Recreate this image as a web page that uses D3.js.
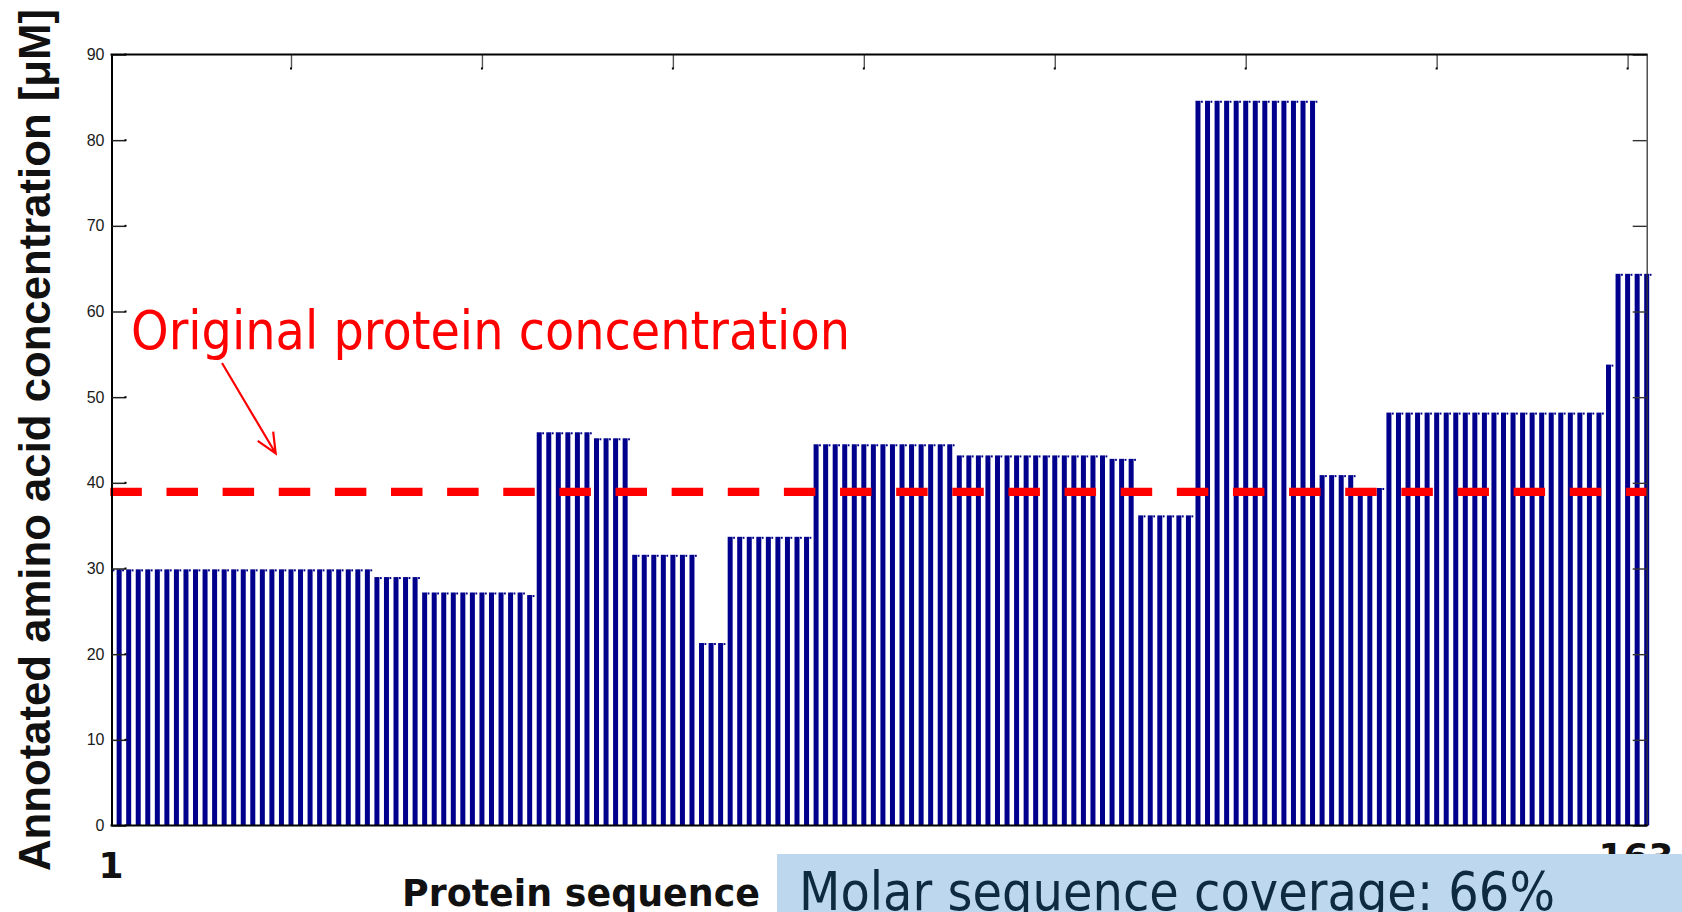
<!DOCTYPE html>
<html>
<head>
<meta charset="utf-8">
<script src="https://cdn.jsdelivr.net/npm/d3@7"></script>
<style>
  html, body { margin: 0; padding: 0; background: #ffffff; }
  svg { display: block; }
</style>
</head>
<body>
<script>
// ---------------- DATA ----------------
// Residue positions along the protein sequence
const positions = d3.range(1, 163);
// Annotated amino acid concentration per residue [µM]
const concentrations = [
  29.9,29.9,29.9,29.9,29.9,29.9,29.9,29.9,29.9,29.9,
  29.9,29.9,29.9,29.9,29.9,29.9,29.9,29.9,29.9,29.9,
  29.9,29.9,29.9,29.9,29.9,29.9,29.9,29.9,
  29.0,29.0,29.0,29.0,29.0,
  27.2,27.2,27.2,27.2,27.2,27.2,27.2,27.2,27.2,27.2,27.2,
  26.9,
  45.9,45.9,45.9,45.9,45.9,45.9,
  45.2,45.2,45.2,45.2,
  31.6,31.6,31.6,31.6,31.6,31.6,31.6,
  21.3,21.3,21.3,
  33.7,33.7,33.7,33.7,33.7,33.7,33.7,33.7,33.7,
  44.5,44.5,44.5,44.5,44.5,44.5,44.5,44.5,44.5,44.5,44.5,44.5,44.5,44.5,44.5,
  43.2,43.2,43.2,43.2,43.2,43.2,43.2,43.2,43.2,43.2,43.2,43.2,43.2,43.2,43.2,43.2,
  42.8,42.8,42.8,
  36.2,36.2,36.2,36.2,36.2,36.2,
  84.6,84.6,84.6,84.6,84.6,84.6,84.6,84.6,84.6,84.6,84.6,84.6,84.6,
  40.9,40.9,40.9,40.9,
  39.4,39.4,39.4,
  48.2,48.2,48.2,48.2,48.2,48.2,48.2,48.2,48.2,48.2,48.2,48.2,
  48.2,48.2,48.2,48.2,48.2,48.2,48.2,48.2,48.2,48.2,48.2,
  53.8,
  64.4,64.4,64.4,64.4
];
const originalConcentration = [38.95];
const yTickValues = [0, 10, 20, 30, 40, 50, 60, 70, 80, 90];
const xTickValues = [20, 40, 60, 80, 100, 120, 140, 160];
const xEndLabels = ["1", "163"];
const yTitle = "Annotated amino acid concentration [\u03bcM]";
const xTitle = "Protein sequence";
const annotationText = "Original protein concentration";
const coverageText = "Molar sequence coverage: 66%";

// ---------------- LAYOUT ----------------
const W = 1682, H = 912;
const plot = { left: 111.5, right: 1646.7, top: 54.5, bottom: 825.5 };

const x = d3.scaleLinear().domain([1.2, 162]).range([plot.left, plot.right]);
const y = d3.scaleLinear().domain([0, 90]).range([plot.bottom, plot.top]);

const barW = 5.0;
const navy = "#00008c";
const red = "#ff0000";

const svg = d3.select("body").append("svg")
  .attr("width", W).attr("height", H)
  .attr("viewBox", `0 0 ${W} ${H}`);

svg.append("rect").attr("width", W).attr("height", H).attr("fill", "#fff");

const defs = svg.append("defs");
defs.append("clipPath").attr("id", "plotclip")
  .append("rect")
  .attr("x", plot.left).attr("y", 0)
  .attr("width", W - plot.left).attr("height", plot.bottom + 1);

// bottom ticks (mostly hidden behind bars)
const bottomAxis = d3.axisBottom(x).tickValues(xTickValues).tickSizeInner(-14).tickSizeOuter(0).tickFormat("");
const gBottom = svg.append("g").attr("transform", `translate(0,${plot.bottom})`).call(bottomAxis);
gBottom.select(".domain").remove();
gBottom.selectAll(".tick line").attr("stroke", "#333").attr("stroke-width", 1.4);

// ---------------- BARS ----------------
const data = positions.map((p, i) => ({ p, v: concentrations[i] }));
const gBars = svg.append("g").attr("clip-path", "url(#plotclip)");
gBars.selectAll("rect.bar").data(data).join("rect")
  .attr("class", "bar")
  .attr("x", d => x(d.p) - barW / 2)
  .attr("width", barW)
  .attr("y", d => y(d.v))
  .attr("height", d => y(0) - y(d.v))
  .attr("fill", navy);
// small dotted cap to the right of each bar top
gBars.selectAll("rect.cap").data(data).join("rect")
  .attr("class", "cap")
  .attr("x", d => x(d.p) + barW / 2 + 0.5)
  .attr("width", 1.8)
  .attr("y", d => y(d.v))
  .attr("height", 2)
  .attr("fill", navy);

// ---------------- REFERENCE LINE ----------------
svg.selectAll("line.ref").data(originalConcentration).join("line")
  .attr("class", "ref")
  .attr("x1", 110.35).attr("x2", plot.right)
  .attr("y1", d => y(d)).attr("y2", d => y(d))
  .attr("stroke", red).attr("stroke-width", 8.4)
  .attr("stroke-dasharray", "31.5,24.63");

// ---------------- AXES ----------------
const leftAxis = d3.axisLeft(y).tickValues(yTickValues).tickSizeInner(-14).tickSizeOuter(0).tickPadding(7);
const gLeft = svg.append("g").attr("transform", `translate(${plot.left},0)`).call(leftAxis);
gLeft.select(".domain").attr("stroke", "#000").attr("stroke-width", 2);
gLeft.selectAll(".tick line").attr("stroke", "#222").attr("stroke-width", 1.5);
gLeft.selectAll(".tick text")
  .attr("font-family", "'Liberation Sans', Arial, sans-serif")
  .attr("font-size", 16).attr("fill", "#1a1a1a");

const rightAxis = d3.axisRight(y).tickValues(yTickValues).tickSizeInner(-14).tickSizeOuter(0).tickFormat("");
const gRight = svg.append("g").attr("transform", `translate(${plot.right},0)`).call(rightAxis);
gRight.select(".domain").attr("stroke", "#333").attr("stroke-width", 1.3);
gRight.selectAll(".tick line").attr("stroke", "#333").attr("stroke-width", 1.4);

const topAxis = d3.axisTop(x).tickValues(xTickValues).tickSizeInner(-14).tickSizeOuter(0).tickFormat("");
const gTop = svg.append("g").attr("transform", `translate(0,${plot.top})`).call(topAxis);
gTop.select(".domain").remove();
gTop.selectAll(".tick line").attr("stroke", "#555").attr("stroke-width", 1.4);
svg.append("line")
  .attr("x1", plot.left - 1).attr("x2", plot.right + 1)
  .attr("y1", plot.top).attr("y2", plot.top)
  .attr("stroke", "#000").attr("stroke-width", 2);

// baseline
svg.append("line")
  .attr("x1", plot.left - 1).attr("x2", plot.right + 1)
  .attr("y1", y(0)).attr("y2", y(0))
  .attr("stroke", "#000").attr("stroke-width", 2);

// tick end dots
svg.append("g").selectAll("rect").data(xTickValues).join("rect")
  .attr("x", d => x(d) - 1).attr("y", plot.top + 13).attr("width", 2).attr("height", 2).attr("fill", "#000");
svg.append("g").selectAll("rect").data(yTickValues).join("rect")
  .attr("x", plot.left + 13).attr("y", d => y(d) - 1).attr("width", 2).attr("height", 2).attr("fill", "#000");

// ---------------- TEXT ----------------
// y title
svg.append("text")
  .attr("transform", `translate(49.5,${440}) rotate(-90)`)
  .attr("text-anchor", "middle")
  .attr("font-family", "'Liberation Sans', Arial, sans-serif")
  .attr("font-weight", "bold")
  .attr("font-size", 44)
  .attr("textLength", 862)
  .attr("lengthAdjust", "spacingAndGlyphs")
  .attr("fill", "#111")
  .text(yTitle);

// "163" end label (partly hidden by the box, as in the original)
svg.append("text")
  .attr("x", 1636).attr("y", 868.5)
  .attr("text-anchor", "middle")
  .attr("font-family", "'DejaVu Sans', Verdana, sans-serif")
  .attr("font-weight", "bold").attr("font-size", 36)
  .attr("fill", "#111")
  .text(xEndLabels[1]);

// "1" end label
svg.append("text")
  .attr("x", 111).attr("y", 877.5)
  .attr("text-anchor", "middle")
  .attr("font-family", "'DejaVu Sans', Verdana, sans-serif")
  .attr("font-weight", "bold").attr("font-size", 36)
  .attr("fill", "#111")
  .text(xEndLabels[0]);

// x title
svg.append("text")
  .attr("x", 402).attr("y", 906)
  .attr("font-family", "'DejaVu Sans', Verdana, sans-serif")
  .attr("font-weight", "bold").attr("font-size", 38)
  .attr("textLength", 358)
  .attr("lengthAdjust", "spacingAndGlyphs")
  .attr("fill", "#111")
  .text(xTitle);

// annotation
svg.append("text")
  .attr("x", 131).attr("y", 348.6)
  .attr("font-family", "'DejaVu Sans', Verdana, sans-serif")
  .attr("font-size", 53)
  .attr("textLength", 719)
  .attr("lengthAdjust", "spacingAndGlyphs")
  .attr("fill", red)
  .text(annotationText);

// arrow
const ax1 = 222, ay1 = 363, ax2 = 275.7, ay2 = 453.5;
const ang = Math.atan2(ay2 - ay1, ax2 - ax1);
const hl = 22, ha = 0.42;
const arrow = d3.path();
arrow.moveTo(ax1, ay1); arrow.lineTo(ax2, ay2);
arrow.moveTo(ax2 - hl * Math.cos(ang - ha), ay2 - hl * Math.sin(ang - ha));
arrow.lineTo(ax2, ay2);
arrow.lineTo(ax2 - hl * Math.cos(ang + ha), ay2 - hl * Math.sin(ang + ha));
svg.append("path").attr("d", arrow.toString())
  .attr("fill", "none").attr("stroke", red).attr("stroke-width", 2.2)
  .attr("stroke-linejoin", "miter");

// coverage box
svg.append("rect")
  .attr("x", 777).attr("y", 854).attr("width", W - 777).attr("height", H - 854)
  .attr("fill", "#bdd7ee");
svg.append("text")
  .attr("x", 799).attr("y", 910)
  .attr("font-family", "'DejaVu Sans', Verdana, sans-serif")
  .attr("font-size", 53)
  .attr("textLength", 756)
  .attr("lengthAdjust", "spacingAndGlyphs")
  .attr("fill", "#0d2a3e")
  .text(coverageText);
</script>
</body>
</html>
